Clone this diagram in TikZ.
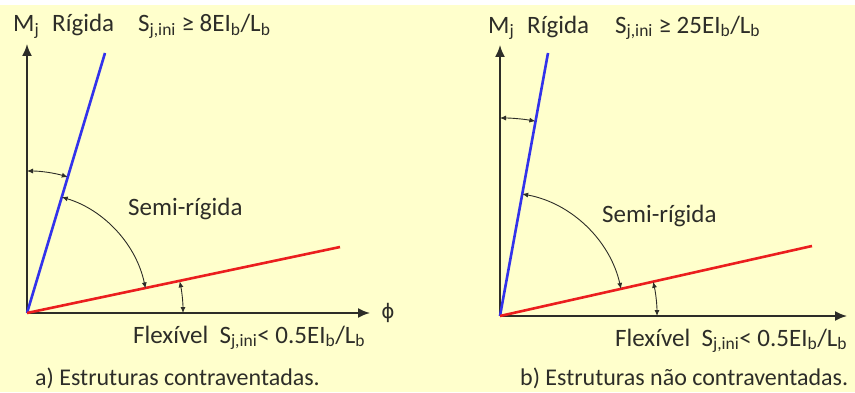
\documentclass[tikz,border=0pt]{standalone}
\usepackage{fontspec}
\setmainfont{Carlito}
\newfontfamily\simbolo{DejaVu Sans}
\usetikzlibrary{arrows.meta}

\definecolor{fundo}{RGB}{255,255,204}
\definecolor{texto}{RGB}{45,45,40}
\definecolor{azul}{RGB}{50,50,235}
\definecolor{vermelho}{RGB}{235,30,30}

\begin{document}
\begin{tikzpicture}[
        x=1pt, y=1pt,
        eixo/.style={draw=texto, line width=1.8pt, -{Latex[length=12pt,width=10pt]}},
        rigida/.style={draw=azul, line width=2.6pt},
        flexivel/.style={draw=vermelho, line width=2.6pt},
        arco/.style={draw=texto, line width=0.9pt, {Latex[length=6pt,width=5pt]}-{Latex[length=6pt,width=5pt]}},
        rotulo/.style={anchor=base west, inner sep=0pt, text=texto, font=\fontsize{25}{30}\selectfont},
        legenda/.style={anchor=base west, inner sep=0pt, text=texto, font=\fontsize{24}{29}\selectfont},
        fi/.style={text=texto, inner sep=0pt, font=\simbolo\fontsize{20}{24}\selectfont}
    ]

        \useasboundingbox (0,0) rectangle (855,392);
        \fill[fundo] (0,0) rectangle (855,387);

        % ==================================================
        % a) CONTRAVENTADAS
        % ==================================================

        \begin{scope}[xshift=27pt, yshift=79pt]

            \coordinate (oa) at (0,0);
            \coordinate (ya) at (0,269);
            \coordinate (xa) at (343,0);
            \coordinate (ra) at (78,260);
            \coordinate (fa) at (313,66);

            % Eixos
            \draw[eixo] (oa) -- (ya);
            \draw[eixo] (oa) -- (xa);

            % Rectas
            \draw[rigida] (oa) -- (ra);
            \draw[flexivel] (oa) -- (fa);

            % Arcos
            \draw[arco] ([shift={(90:142)}]oa) arc[start angle=90, end angle=73.3, radius=142];
            \draw[arco] ([shift={(73.3:121)}]oa) arc[start angle=73.3, end angle=11.7, radius=121];
            \draw[arco] ([shift={(11.7:156)}]oa) arc[start angle=11.7, end angle=0, radius=156];

            % Textos
            \node[rotulo] (ma) at (-14,281) {M\textsubscript{j}};
            \node[rotulo] (rga) at (25,281) {Rígida};
            \node[rotulo] (sra) at (111,281) {S\textsubscript{j,ini} ≥ 8EI\textsubscript{b}/L\textsubscript{b}};
            \node[rotulo] (sma) at (101,98) {Semi-rígida};
            \node[rotulo] (fla) at (106,-30) {Flexível\ \ S\textsubscript{j,ini}< 0.5EI\textsubscript{b}/L\textsubscript{b}};
            \node[fi] (phia) at (361,0) {ϕ};
            \node[legenda] (capa) at (8,-72) {a) Estruturas contraventadas.};

        \end{scope}

        % ==================================================
        % b) NAO CONTRAVENTADAS
        % ==================================================

        \begin{scope}[xshift=500pt, yshift=76pt]

            \coordinate (ob) at (0,0);
            \coordinate (yb) at (0,271);
            \coordinate (xb) at (347,0);
            \coordinate (rb) at (48,263);
            \coordinate (fb) at (312,70);

            % Eixos
            \draw[eixo] (ob) -- (yb);
            \draw[eixo] (ob) -- (xb);

            % Rectas
            \draw[rigida] (ob) -- (rb);
            \draw[flexivel] (ob) -- (fb);

            % Arcos
            \draw[arco] ([shift={(90:198)}]ob) arc[start angle=90, end angle=79.7, radius=198];
            \draw[arco] ([shift={(79.7:124)}]ob) arc[start angle=79.7, end angle=12.6, radius=124];
            \draw[arco] ([shift={(12.6:157)}]ob) arc[start angle=12.6, end angle=0, radius=157];

            % Textos
            \node[rotulo] (mb) at (-12,283) {M\textsubscript{j}};
            \node[rotulo] (rgb) at (27,283) {Rígida};
            \node[rotulo] (srb) at (115,283) {S\textsubscript{j,ini} ≥ 25EI\textsubscript{b}/L\textsubscript{b}};
            \node[rotulo] (smb) at (102,94) {Semi-rígida};
            \node[rotulo] (flb) at (115,-30) {Flexível\ \ S\textsubscript{j,ini}< 0.5EI\textsubscript{b}/L\textsubscript{b}};
            \node[fi] (phib) at (361,0) {ϕ};
            \node[legenda] (capb) at (20,-69) {b) Estruturas não contraventadas.};

        \end{scope}

    \end{tikzpicture}
\end{document}
